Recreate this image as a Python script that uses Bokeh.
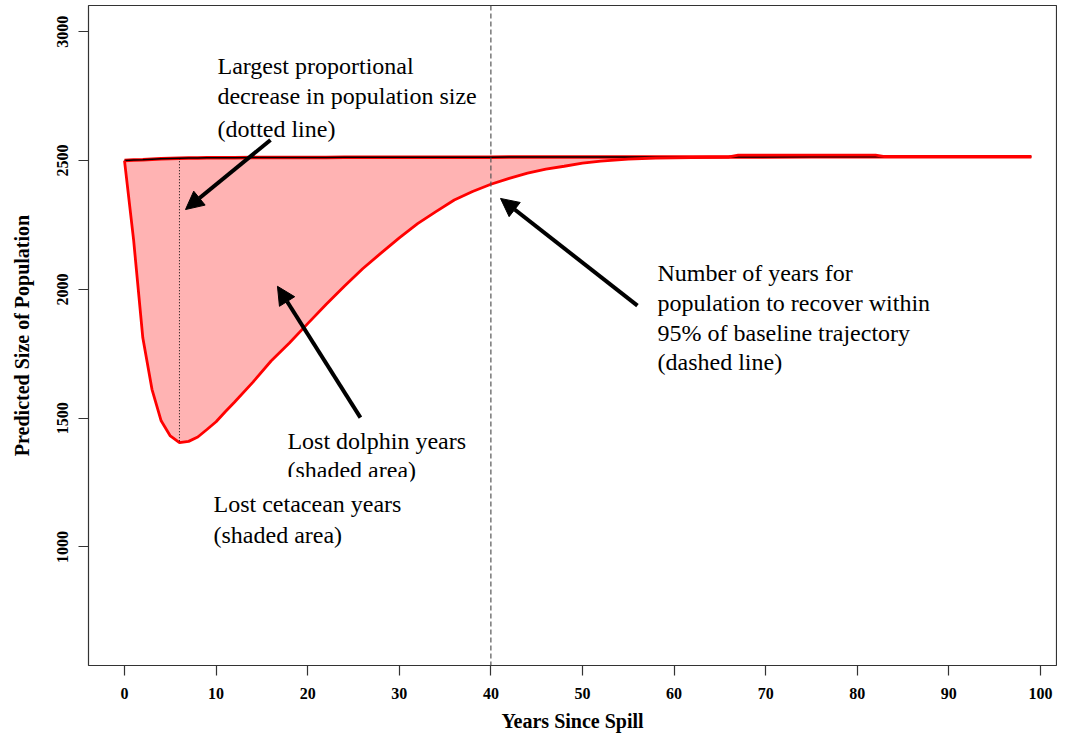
from bokeh.plotting import figure
from bokeh.models import Range1d, FixedTicker, Arrow, NormalHead, Label, Span, BoxAnnotation
from bokeh.embed import file_html
from bokeh.resources import INLINE

# ---- data ----
years = [0, 1, 2, 3, 4, 5, 6, 7, 8, 9, 10, 11, 12, 14, 16, 18, 20, 22, 24, 26, 28,
         30, 32, 34, 36, 38, 40, 42, 44, 46, 48, 50, 52, 55, 58, 62, 66, 67, 75, 82,
         83, 90, 99]
baseline = [2500, 2502, 2503, 2505, 2507, 2508, 2509, 2510, 2510, 2511, 2511, 2511,
            2511, 2512, 2512, 2512, 2512, 2512, 2513, 2513, 2513, 2513, 2513, 2513,
            2513, 2513, 2513, 2514, 2514, 2514, 2514, 2514, 2514, 2514, 2514, 2514,
            2514, 2514, 2515, 2515, 2515, 2515, 2515]
spill = [2500, 2190, 1812, 1612, 1490, 1431, 1405, 1410, 1427, 1456, 1486, 1525,
         1562, 1639, 1722, 1792, 1867, 1941, 2012, 2080, 2141, 2200, 2255, 2302,
         2347, 2380, 2408, 2431, 2451, 2467, 2478, 2490, 2498, 2506, 2510, 2512,
         2514, 2521, 2521, 2521, 2515, 2515, 2515]
x_ticks = [0, 10, 20, 30, 40, 50, 60, 70, 80, 90, 100]
y_ticks = [1000, 1500, 2000, 2500, 3000]
max_decline_year = 6
recovery_year = 40

SERIF = "Liberation Serif"

p = figure(width=1057, height=734,
           x_range=Range1d(-3.93, 101.75), y_range=Range1d(540, 3102),
           output_backend="svg", toolbar_location=None,
           min_border_left=88, min_border_right=1, min_border_top=5, min_border_bottom=67,
           x_axis_label="Years Since Spill", y_axis_label="Predicted Size of Population")

p.grid.visible = False
p.outline_line_color = "#333333"
p.outline_line_width = 1.2
p.background_fill_color = "white"
p.border_fill_color = "white"

# shaded area between baseline and spill trajectory
p.varea(x=years, y1=spill, y2=baseline, fill_color="#FFB3B3", fill_alpha=1)
p.line(years, baseline, line_color="red", line_width=3.5)
p.line(years, baseline, line_color="black", line_width=1.5)
p.line(years, spill, line_color="red", line_width=2.8)

# dotted line at year of largest decline
i = years.index(max_decline_year)
p.segment(x0=[max_decline_year], y0=[baseline[i]], x1=[max_decline_year], y1=[spill[i]],
          line_color="black", line_width=1, line_dash="1 2")

# dashed recovery line
p.add_layout(Span(location=recovery_year, dimension="height", line_color="#555555",
                  line_width=1.2, line_dash="5 3"))

# axes
for ax in (p.xaxis[0], p.yaxis[0]):
    ax.axis_line_color = None
    ax.major_tick_out = 10
    ax.major_tick_in = 0
    ax.minor_tick_line_color = None
    ax.major_tick_line_color = "#333333"
    ax.major_tick_line_width = 1.2
    ax.major_label_text_font = SERIF
    ax.major_label_text_font_style = "bold"
    ax.major_label_text_font_size = "16px"
    ax.major_label_text_color = "black"
    ax.axis_label_text_font = SERIF
    ax.axis_label_text_font_style = "bold"
    ax.axis_label_text_font_size = "20px"
    ax.axis_label_text_color = "black"

p.xaxis.ticker = FixedTicker(ticks=x_ticks)
p.yaxis.ticker = FixedTicker(ticks=y_ticks)
p.xaxis.major_label_standoff = 12
p.xaxis.axis_label_standoff = 8
p.yaxis.major_label_orientation = "vertical"
p.yaxis.major_label_standoff = 10
p.yaxis.axis_label_standoff = 22

# arrows
def arrow(xs, ys, xe, ye):
    p.add_layout(Arrow(end=NormalHead(size=18, fill_color="black", line_color="black", line_width=1),
                       x_start=xs, y_start=ys, x_end=xe, y_end=ye,
                       line_width=4, line_color="black"))

arrow(15.94, 2580, 6.66, 2310)
arrow(25.76, 1502, 16.70, 2012)
arrow(56.0, 1937, 41.05, 2353)

def text_block(x, ys, lines):
    for y, t in zip(ys, lines):
        p.add_layout(Label(x=x, y=y, text=t, text_font=SERIF, text_font_size="24px",
                           text_baseline="middle", text_align="left", text_color="black"))

text_block(10.15, [2867, 2749, 2624],
           ["Largest proportional", "decrease in population size", "(dotted line)"])
text_block(58.19, [2065, 1947, 1830, 1720],
           ["Number of years for", "population  to recover within",
            "95% of baseline  trajectory", "(dashed line)"])
text_block(17.79, [1412, 1298], ["Lost dolphin  years", "(shaded area)"])
p.add_layout(BoxAnnotation(left=8.84, right=31.2, bottom=965, top=1272,
                           fill_color="white", fill_alpha=1, line_color=None))
text_block(9.72, [1165, 1047], ["Lost cetacean years", "(shaded area)"])

open("out.html", "w").write(file_html(p, INLINE))
